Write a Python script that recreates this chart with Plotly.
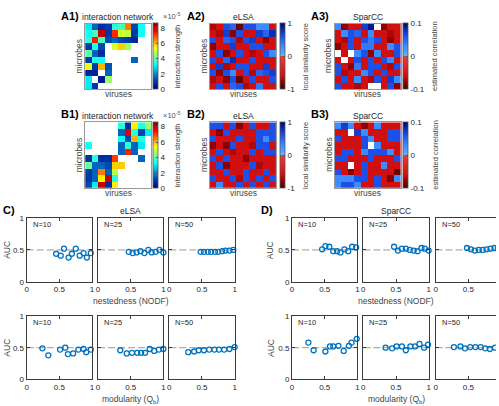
import plotly.graph_objects as go

W, H = 499, 406

# ---------------- heatmap data (rows top -> bottom, None = no value) ----------------
A1_network = [
    [3.0, 1.5, 0.8, 1.0, 3.5, 3.8, 6.5, 1.2, 3.3, None],
    [3.3, 3.8, 8.0, 1.0, 7.2, 5.0, 4.8, 1.0, 3.3, None],
    [3.5, 7.3, 3.8, 1.2, 1.5, 1.2, 1.0, 0.7, None, None],
    [1.0, 3.5, 1.2, None, 5.0, 5.8, 4.5, None, None, None],
    [4.0, 1.5, 0.8, None, None, None, None, None, None, None],
    [1.0, 3.5, 3.3, None, None, None, None, 1.5, None, None],
    [5.2, 1.0, 6.0, 1.3, None, None, None, None, None, None],
    [0.6, 0.6, None, 1.5, None, None, None, None, None, None],
    [3.0, None, 0.5, 4.5, None, None, None, None, None, None],
    [3.0, 1.0, None, None, None, None, None, None, None, None],
]
B1_network = [
    [None, None, None, None, None, 3.5, 0.8, 5.5, 3.5, 4.5],
    [None, None, None, None, None, 1.5, 7.8, 3.5, 1.2, 3.0],
    [None, None, None, None, None, 3.3, 1.2, 6.0, 3.5, None],
    [3.3, None, None, None, None, 1.5, 3.5, 1.5, 3.0, None],
    [None, None, None, None, None, 1.5, 7.3, 1.5, None, None],
    [0.8, 3.5, 0.8, 0.8, 7.0, None, None, None, 1.5, None],
    [4.0, 1.5, 1.5, 1.2, 5.8, 5.8, None, None, None, None],
    [1.0, 1.5, 6.5, 1.5, 4.8, None, None, None, None, None],
    [1.0, 1.5, 5.5, 8.0, 3.5, None, None, None, None, None],
    [1.2, 3.0, 8.0, 0.8, 5.5, None, None, None, None, None],
]
A2_elsa = [
    [-0.7, -0.6, 0.6, 0.5, -0.9, 0.6, 0.6, 0.3, 0.3, -0.6],
    [-0.6, -0.7, 0.7, -0.8, 0.6, -0.6, -0.6, 0.7, 0.5, 0.8],
    [0.6, -0.6, 0.5, 0.6, -0.7, 0.6, 0.7, -0.6, -0.8, -0.6],
    [-0.8, -0.6, -0.6, 0.7, -0.6, -0.6, 0.6, 0.6, -0.6, -0.6],
    [-0.6, 0.6, -0.8, -0.6, 0.6, -0.6, -0.7, -0.6, 0.6, 0.3],
    [0.6, -0.6, 0.5, 0.8, -0.6, -0.6, 0.6, -0.6, -0.6, -0.6],
    [-0.6, 0.7, -0.7, -0.6, 0.6, 0.6, -0.6, -0.6, 0.7, -0.6],
    [0.6, -0.8, 0.6, 0.3, -0.6, 0.6, -0.7, 0.5, 0.6, 0.7],
    [-0.7, -0.6, -0.8, 0.6, -0.9, -0.6, 0.6, -0.6, -0.6, 0.6],
    [-0.6, 0.6, -0.6, 0.5, 0.6, -0.7, -0.6, 0.4, -0.6, -0.6],
]
B2_elsa = [
    [0.6, 0.6, -0.6, 0.6, -0.8, -0.6, 0.6, -0.6, -0.6, 0.6],
    [-0.6, -0.8, 0.6, -0.6, -0.6, -0.6, -0.6, 0.6, 0.6, 0.6],
    [0.6, -0.6, -0.6, -0.6, 0.6, -0.6, -0.6, 0.6, 0.3, 0.6],
    [-0.8, -0.6, -0.8, 0.6, -0.6, -0.6, -0.7, 0.6, 0.6, -0.6],
    [-0.6, 0.6, -0.6, -0.7, -0.6, -0.6, 0.6, -0.6, 0.6, 0.6],
    [0.6, -0.6, 0.6, -0.6, -0.6, -0.8, -0.6, -0.6, -0.6, -0.6],
    [-0.6, 0.6, -0.8, -0.6, -0.6, -0.6, 0.6, -0.7, -0.6, -0.6],
    [-0.6, -0.6, 0.6, -0.6, -0.6, 0.6, -0.6, -0.6, 0.6, -0.6],
    [0.6, -0.6, -0.6, 0.6, -0.7, 0.6, -0.6, 0.6, -0.6, 0.6],
    [-0.6, 0.3, -0.6, -0.6, 0.6, -0.6, 0.6, -0.6, 0.6, -0.6],
]
A3_sparcc = [
    [0.03, -0.08, -0.06, -0.06, 0.07, 0.09, None, -0.08, -0.06, -0.06],
    [-0.06, 0.03, 0.06, 0.05, -0.06, 0.03, -0.06, -0.06, -0.07, -0.06],
    [-0.06, -0.07, 0.06, -0.06, 0.06, 0.04, 0.06, -0.06, -0.08, -0.06],
    [-0.08, -0.06, 0.06, -0.06, 0.04, 0.04, -0.06, -0.06, 0.03, 0.06],
    [None, -0.06, None, 0.03, 0.06, -0.08, 0.03, -0.06, -0.06, 0.06],
    [-0.06, None, -0.06, 0.06, -0.06, 0.06, -0.06, 0.06, 0.03, -0.06],
    [0.06, -0.06, -0.08, 0.04, -0.06, 0.06, 0.06, -0.06, -0.07, 0.06],
    [0.06, -0.07, -0.06, -0.06, 0.03, 0.06, -0.06, 0.06, -0.06, -0.06],
    [-0.06, 0.06, -0.06, 0.03, -0.06, -0.07, 0.06, -0.06, 0.07, 0.03],
    [0.06, -0.06, -0.06, -0.07, -0.06, None, None, -0.06, 0.06, -0.08],
]
B3_sparcc = [
    [0.03, 0.07, 0.03, -0.06, -0.08, -0.06, 0.03, -0.06, -0.06, -0.06],
    [-0.06, -0.06, None, 0.07, 0.03, -0.06, -0.06, -0.06, 0.06, 0.06],
    [0.06, -0.06, -0.06, -0.06, 0.06, 0.03, -0.06, -0.06, 0.06, 0.06],
    [-0.06, -0.06, -0.06, -0.06, 0.06, None, 0.03, -0.06, -0.06, -0.06],
    [-0.06, 0.06, 0.06, -0.06, 0.03, 0.06, 0.06, 0.06, 0.03, -0.06],
    [0.06, 0.06, -0.06, -0.06, -0.06, 0.06, -0.06, -0.06, -0.06, 0.06],
    [-0.06, -0.06, None, -0.06, 0.06, -0.06, -0.06, 0.03, -0.06, -0.06],
    [0.06, -0.06, -0.08, -0.06, 0.06, -0.06, -0.06, -0.06, -0.06, -0.09],
    [0.03, 0.03, 0.03, 0.06, 0.06, -0.06, 0.06, -0.06, -0.08, 0.03],
    [0.03, 0.06, 0.06, 0.03, -0.06, -0.06, 0.06, -0.06, -0.06, -0.06],
]

# ---------------- AUC scatter data ----------------
elsa_nest_N10_x = [0.45, 0.52, 0.57, 0.64, 0.69, 0.75, 0.81, 0.87, 0.92, 0.98]
elsa_nest_N10_y = [0.44, 0.41, 0.52, 0.38, 0.44, 0.52, 0.41, 0.45, 0.38, 0.45]
elsa_nest_N25_x = [0.47, 0.53, 0.59, 0.65, 0.71, 0.77, 0.82, 0.88, 0.94, 1.00]
elsa_nest_N25_y = [0.47, 0.45, 0.46, 0.48, 0.45, 0.50, 0.46, 0.47, 0.50, 0.46]
elsa_nest_N50_x = [0.48, 0.53, 0.59, 0.64, 0.70, 0.75, 0.81, 0.86, 0.92, 0.98]
elsa_nest_N50_y = [0.47, 0.47, 0.47, 0.47, 0.47, 0.47, 0.48, 0.49, 0.49, 0.50]

sparcc_nest_N10_x = [0.46, 0.51, 0.57, 0.63, 0.69, 0.74, 0.80, 0.86, 0.92, 0.98]
sparcc_nest_N10_y = [0.51, 0.56, 0.55, 0.48, 0.48, 0.46, 0.51, 0.48, 0.55, 0.54]
sparcc_nest_N25_x = [0.47, 0.53, 0.59, 0.65, 0.71, 0.77, 0.83, 0.89, 0.94, 1.00]
sparcc_nest_N25_y = [0.55, 0.49, 0.52, 0.52, 0.50, 0.49, 0.48, 0.53, 0.52, 0.49]
sparcc_nest_N50_x = [0.48, 0.54, 0.60, 0.66, 0.72, 0.78, 0.84, 0.90, 0.95, 1.00]
sparcc_nest_N50_y = [0.53, 0.51, 0.49, 0.50, 0.50, 0.51, 0.52, 0.53, 0.52, 0.51]

elsa_mod_N10_x = [0.24, 0.33, 0.51, 0.59, 0.63, 0.71, 0.79, 0.87, 0.91, 0.98]
elsa_mod_N10_y = [0.49, 0.38, 0.47, 0.50, 0.40, 0.41, 0.47, 0.48, 0.43, 0.47]
elsa_mod_N25_x = [0.34, 0.44, 0.52, 0.60, 0.66, 0.72, 0.79, 0.86, 0.93, 1.00]
elsa_mod_N25_y = [0.46, 0.41, 0.42, 0.42, 0.42, 0.42, 0.48, 0.45, 0.47, 0.48]
elsa_mod_N50_x = [0.29, 0.38, 0.45, 0.53, 0.61, 0.69, 0.76, 0.84, 0.92, 1.00]
elsa_mod_N50_y = [0.43, 0.44, 0.46, 0.46, 0.47, 0.47, 0.47, 0.47, 0.48, 0.51]

sparcc_mod_N10_x = [0.25, 0.33, 0.51, 0.58, 0.63, 0.71, 0.79, 0.87, 0.91, 0.99]
sparcc_mod_N10_y = [0.58, 0.46, 0.44, 0.52, 0.52, 0.53, 0.45, 0.53, 0.58, 0.64]
sparcc_mod_N25_x = [0.34, 0.44, 0.51, 0.59, 0.65, 0.72, 0.79, 0.86, 0.93, 0.99]
sparcc_mod_N25_y = [0.50, 0.49, 0.52, 0.52, 0.46, 0.52, 0.52, 0.56, 0.50, 0.55]
sparcc_mod_N50_x = [0.28, 0.38, 0.45, 0.53, 0.61, 0.69, 0.76, 0.83, 0.91, 0.99]
sparcc_mod_N50_y = [0.51, 0.52, 0.49, 0.51, 0.51, 0.51, 0.49, 0.48, 0.50, 0.52]

N_labels = ["N=10", "N=25", "N=50"]
auc_ticks = [0, 0.5, 1]
auc_ticktext = ["0", "0.5", "1"]

# ---------------- styling ----------------
FONT = "Liberation Sans, Arial, Helvetica, sans-serif"
TXT = "#262626"
BLUE = "#0072BD"
JET = [[0, "rgb(0,0,131)"], [0.125, "rgb(0,60,170)"], [0.375, "rgb(5,255,255)"],
       [0.625, "rgb(255,255,0)"], [0.875, "rgb(250,0,0)"], [1, "rgb(128,0,0)"]]
REDBLUE = [[0, "#4a0000"], [0.1, "#8c0000"], [0.2, "#d01010"], [0.495, "#f03a3a"],
           [0.5, "#d8d8d8"], [0.505, "#5ab4ff"], [0.65, "#3c8cff"], [0.8, "#1e50e6"],
           [0.9, "#0a2cb4"], [1, "#000064"]]

fig = go.Figure()
layout = {}
annotations = []
counter = [0]


def new_axes():
    counter[0] += 1
    n = counter[0]
    s = "" if n == 1 else str(n)
    return "xaxis" + s, "yaxis" + s, "x" + s, "y" + s


def px_x(a):
    return a / W


def px_y(a):
    return 1 - a / H


def ann(text, x, y, size=9, bold=False, angle=0, color=TXT, xanchor="center"):
    if bold:
        text = "<b>" + text + "</b>"
    annotations.append(dict(text=text, x=px_x(x), y=px_y(y), xref="paper", yref="paper",
                            showarrow=False, textangle=angle, xanchor=xanchor,
                            yanchor="middle", font=dict(size=size, color=color, family=FONT)))


def heat(z, left, top, cscale, zmin, zmax, cb_left, tvals, ttext):
    size = 67
    xa, ya, xr, yr = new_axes()
    fig.add_trace(go.Heatmap(
        z=z, x=list(range(1, 11)), y=list(range(1, 11)), xaxis=xr, yaxis=yr,
        colorscale=cscale, zmin=zmin, zmax=zmax, hoverongaps=False,
        colorbar=dict(x=px_x(cb_left), xanchor="left", xpad=0, ypad=0,
                      y=px_y(top + size / 2), yanchor="middle",
                      len=size / H, lenmode="fraction", thickness=5,
                      outlinewidth=0.8, outlinecolor="#555",
                      tickvals=tvals, ticktext=ttext, ticks="inside", ticklen=2,
                      tickcolor="#555", tickfont=dict(size=8, color=TXT, family=FONT))))
    layout[xa] = dict(domain=[px_x(left), px_x(left + size)], range=[0.5, 10.5], anchor=yr,
                      showticklabels=False, ticks="", showgrid=False, zeroline=False,
                      showline=True, mirror=True, linecolor="#999", linewidth=1)
    layout[ya] = dict(domain=[px_y(top + size), px_y(top)], range=[10.5, 0.5], anchor=xr,
                      showticklabels=False, ticks="", showgrid=False, zeroline=False,
                      showline=True, mirror=True, linecolor="#999", linewidth=1)


def panel(xs, ys, left, top, show_y, label, width=66, xmax=1.0, cut=False):
    h = 65
    xa, ya, xr, yr = new_axes()
    fig.add_trace(go.Scatter(x=[0, 1], y=[0.5, 0.5], mode="lines", xaxis=xr, yaxis=yr,
                             line=dict(color="#999999", width=1, dash="7px,3px"),
                             hoverinfo="skip", showlegend=False))
    fig.add_trace(go.Scatter(x=xs, y=ys, mode="markers", xaxis=xr, yaxis=yr,
                             cliponaxis=cut,
                             marker=dict(symbol="circle-open", size=5, color=BLUE,
                                         line=dict(width=1.3, color=BLUE)),
                             showlegend=False))
    common = dict(showgrid=False, zeroline=False, showline=True, linecolor="#3a3a3a",
                  linewidth=1.2, ticks="inside", ticklen=3, tickcolor="#3a3a3a",
                  tickvals=auc_ticks, ticktext=auc_ticktext,
                  tickfont=dict(size=8, color=TXT, family=FONT))
    layout[xa] = dict(domain=[px_x(left), min(1.0, px_x(left + width))], range=[0, xmax],
                      anchor=yr, mirror="ticks", **common)
    layout[ya] = dict(domain=[px_y(top + h), px_y(top)], range=[0, 1], anchor=xr,
                      showticklabels=show_y, mirror=(False if cut else "ticks"), **common)
    ann(label, left + 4, top + 7, size=7.5, xanchor="left")


# ---------------- heatmaps A/B ----------------
rows_top = [20, 121]
cols_left = [84, 210, 336]
cb_lefts = [153, 281, 405]
cb_title_x = [177, 306, 437]
row_letters = ["A", "B"]
heat_titles = ["interaction network", "eLSA", "SparCC"]
cb_titles = ["interaction strength", "local similarity score", "estimated correlation"]
letter_x = [69, 196, 321]

heat_sets = [
    [(A1_network, JET, 0, 8.6, [0, 2, 4, 6, 8], ["0", "2", "4", "6", "8"]),
     (A2_elsa, REDBLUE, -1, 1, [-1, 0, 1], ["-1", "0", "1"]),
     (A3_sparcc, REDBLUE, -0.1, 0.1, [-0.1, 0, 0.1], ["-0.1", "0", "0.1"])],
    [(B1_network, JET, 0, 8.6, [0, 2, 4, 6, 8], ["0", "2", "4", "6", "8"]),
     (B2_elsa, REDBLUE, -1, 1, [-1, 0, 1], ["-1", "0", "1"]),
     (B3_sparcc, REDBLUE, -0.1, 0.1, [-0.1, 0, 0.1], ["-0.1", "0", "0.1"])],
]

for r, top in enumerate(rows_top):
    for c, left in enumerate(cols_left):
        z, cs, zmin, zmax, tv, tt = heat_sets[r][c]
        heat(z, left, top, cs, zmin, zmax, cb_lefts[c], tv, tt)
        ann(row_letters[r] + str(c + 1) + ")", letter_x[c], top - 8, size=11, bold=True, color="#000")
        ann(heat_titles[c], left + 33.5, top - 6.5, size=8.5)
        ann("microbes", left - 6, top + 33.5, size=8.5, angle=-90, color="#444")
        ann("viruses", left + 33.5, top + 72, size=8.5, color="#444")
        ann(cb_titles[c], cb_title_x[c], top + 33.5, size=7.5, angle=-90, color="#444")
    ann("\u00d710<sup>-5</sup>", 171, top - 7.5, size=7.5, color="#555")

# ---------------- AUC panels C/D ----------------
c_lefts = [25, 97, 169]
d_lefts = [293, 365, 438]
p_tops = [219, 319]

C_data = [
    [(elsa_nest_N10_x, elsa_nest_N10_y), (elsa_nest_N25_x, elsa_nest_N25_y), (elsa_nest_N50_x, elsa_nest_N50_y)],
    [(elsa_mod_N10_x, elsa_mod_N10_y), (elsa_mod_N25_x, elsa_mod_N25_y), (elsa_mod_N50_x, elsa_mod_N50_y)],
]
D_data = [
    [(sparcc_nest_N10_x, sparcc_nest_N10_y), (sparcc_nest_N25_x, sparcc_nest_N25_y), (sparcc_nest_N50_x, sparcc_nest_N50_y)],
    [(sparcc_mod_N10_x, sparcc_mod_N10_y), (sparcc_mod_N25_x, sparcc_mod_N25_y), (sparcc_mod_N50_x, sparcc_mod_N50_y)],
]

for r, top in enumerate(p_tops):
    for c in range(3):
        xs, ys = C_data[r][c]
        panel(xs, ys, c_lefts[c], top, c == 0, N_labels[c])
        xs, ys = D_data[r][c]
        if c == 2:
            panel(xs, ys, d_lefts[c], top, False, N_labels[c], width=61, xmax=61 / 66, cut=True)
        else:
            panel(xs, ys, d_lefts[c], top, c == 0, N_labels[c])
    ann("AUC", 5, top + 32.5, size=8.5, angle=-90, color="#444")
    ann("AUC", 271, top + 32.5, size=8.5, angle=-90, color="#444")

ann("C)", 7, 211, size=11, bold=True, color="#000")
ann("D)", 268, 211, size=11, bold=True, color="#000")
ann("eLSA", 130, 212, size=8.5)
ann("SparCC", 398, 212, size=8.5)
ann("nestedness (NODF)", 130, 304, size=8.5, color="#444")
ann("nestedness (NODF)", 398, 304, size=8.5, color="#444")
ann("modularity (Q<sub>b</sub>)", 130, 404, size=8.5, color="#444")
ann("modularity (Q<sub>b</sub>)", 398, 404, size=8.5, color="#444")

fig.update_layout(width=W, height=H, margin=dict(l=0, r=0, t=0, b=0),
                  paper_bgcolor="white", plot_bgcolor="white", showlegend=False,
                  font=dict(family=FONT, size=8, color=TXT),
                  annotations=annotations, **layout)

fig.write_html("out.html")
